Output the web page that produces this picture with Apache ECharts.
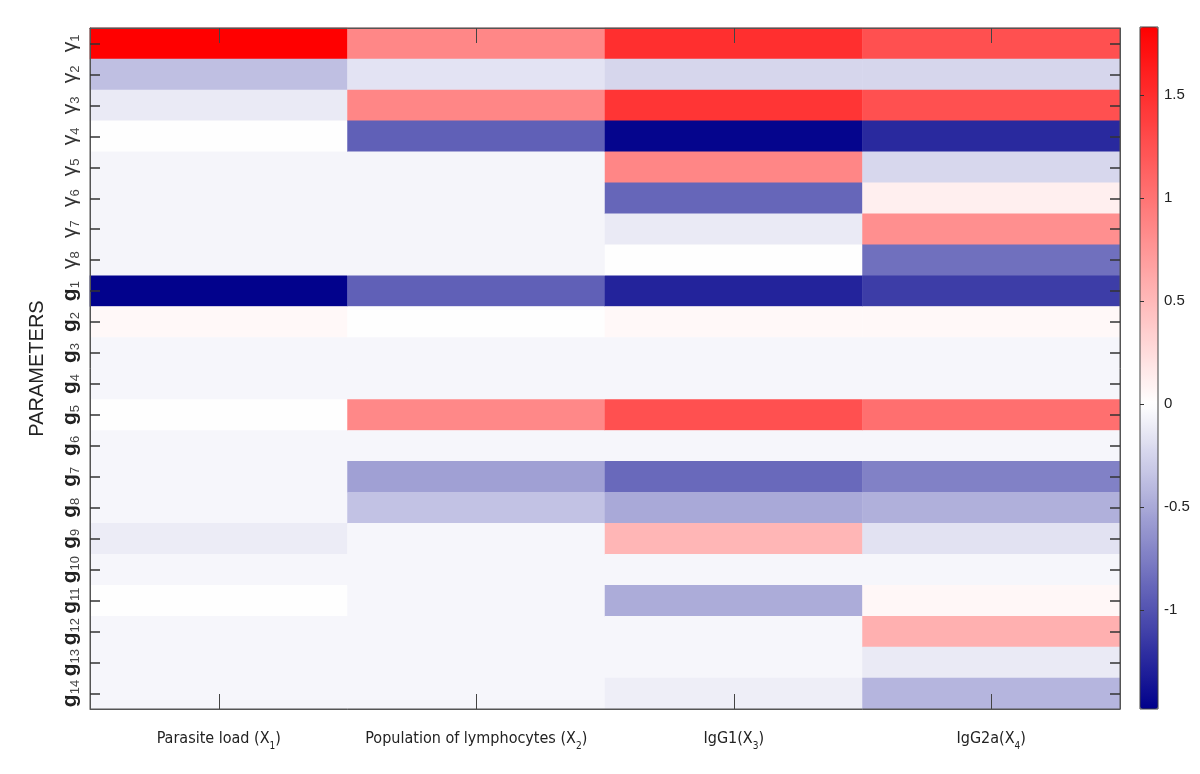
<!DOCTYPE html>
<html>
<head>
<meta charset="utf-8">
<script src="https://cdn.jsdelivr.net/npm/echarts@6/dist/echarts.min.js"></script>
<style>html,body{margin:0;padding:0;background:#fff}#chart{width:1200px;height:774px}</style>
</head>
<body>
<div id="chart"></div>
<script>
// ---- data ----
const rowLabels = ['γ1','γ2','γ3','γ4','γ5','γ6','γ7','γ8',
  'g1','g2','g3','g4','g5','g6','g7','g8','g9','g10','g11','g12','g13','g14'];
const colLabels = ['Parasite load (X1)','Population of lymphocytes (X2)','IgG1(X3)','IgG2a(X4)'];
const colMain = ['Parasite load (X','Population of lymphocytes (X','IgG1(X','IgG2a(X'];
const colSub = ['1','2','3','4'];

const parasiteLoad = [1.83,-0.37,-0.12,0.00,-0.06,-0.06,-0.06,-0.06,
  -1.47,0.05,-0.05,-0.05,0.00,-0.05,-0.05,-0.05,-0.11,-0.05,0.00,-0.05,-0.05,-0.05];
const lymphocytes = [0.86,-0.16,0.87,-0.92,-0.06,-0.06,-0.06,-0.06,
  -0.92,0.00,-0.05,-0.05,0.85,-0.05,-0.55,-0.35,-0.05,-0.05,-0.05,-0.05,-0.05,-0.05];
const igG1 = [1.49,-0.24,1.45,-1.45,0.87,-0.89,-0.12,0.00,
  -1.28,0.05,-0.05,-0.05,1.26,-0.05,-0.87,-0.50,0.53,-0.05,-0.48,-0.05,-0.05,-0.10];
const igG2a = [1.26,-0.24,1.26,-1.24,-0.23,0.11,0.80,-0.83,
  -1.13,0.05,-0.05,-0.05,1.03,-0.05,-0.73,-0.46,-0.17,-0.05,0.06,0.57,-0.12,-0.43];

const colorbarTicks = [-1,-0.5,0,0.5,1,1.5];
const VMIN = -1.48, VMAX = 1.83;

// ---- build ----
const columns = [parasiteLoad, lymphocytes, igG1, igG2a];
const data = [];
columns.forEach((col, xi) => col.forEach((v, yi) => data.push([xi, yi, v])));

const NAVY = [0,0,139], RED = [255,0,0], WHITE = [255,255,255];
function mix(a, b, t){ return 'rgb(' + a.map((c,i)=>Math.round(c+(b[i]-c)*t)).join(',') + ')'; }
function cmap(v){ return v < 0 ? mix(WHITE, NAVY, Math.min(1, v/VMIN)) : mix(WHITE, RED, Math.min(1, v/VMAX)); }
const stops = [];
const N = 160;
for (let i = 0; i <= N; i++) stops.push(cmap(VMIN + (VMAX - VMIN) * i / N));

const chart = echarts.init(document.getElementById('chart'));
const axisColor = '#555';
const labelFont = "'DejaVu Sans Condensed','Liberation Sans Narrow','Arial Narrow',sans-serif";
const sans = "'Liberation Sans',Arial,sans-serif";

chart.setOption({
  backgroundColor: '#fff',
  animation: false,
  grid: [
    {left: 90, top: 28, width: 1030, height: 681, show: true, borderColor: axisColor, borderWidth: 1, z: 8},
    {left: 1140, top: 27, width: 18, height: 682, show: true, borderColor: '#444', borderWidth: 1, backgroundColor: 'transparent', z: 8}
  ],
  visualMap: {
    type: 'continuous',
    seriesIndex: 0,
    min: VMIN, max: VMAX,
    orient: 'vertical',
    left: 1140, top: 27,
    padding: 0,
    itemWidth: 18, itemHeight: 682,
    calculable: false,
    text: null,
    showLabel: false,
    hoverLink: false,
    inRange: {color: stops}
  },
  xAxis: [
    {type: 'category', gridIndex: 0, data: colLabels, position: 'bottom', z: 10,
      axisLine: {lineStyle: {color: axisColor}},
      axisTick: {show: true, alignWithLabel: true, inside: true, length: 15, lineStyle: {color: '#444', width: 1}},
      splitLine: {show: false},
      axisLabel: {margin: 18, interval: 0, color: '#222',
        formatter: (v, i) => '{n|' + colMain[i] + '}{s|' + colSub[i] + '}{n|)}',
        rich: {
          n: {fontFamily: labelFont, fontSize: 16, color: '#222'},
          s: {fontFamily: labelFont, fontSize: 10, color: '#222', padding: [14, 0, 0, 0]}
        }}
    },
    {type: 'category', gridIndex: 0, data: colLabels, position: 'top', z: 10,
      axisLine: {lineStyle: {color: axisColor}},
      axisTick: {show: true, alignWithLabel: true, inside: true, length: 15, lineStyle: {color: '#444', width: 1}},
      axisLabel: {show: false}, splitLine: {show: false}},
    {type: 'value', gridIndex: 1, show: false, min: 0, max: 1}
  ],
  yAxis: [
    {type: 'category', gridIndex: 0, data: rowLabels, inverse: true, position: 'left', z: 10,
      name: 'PARAMETERS', nameLocation: 'middle', nameGap: 43, nameRotate: 90,
      nameTextStyle: {fontFamily: sans, fontSize: 20, color: '#222'},
      axisLine: {lineStyle: {color: axisColor}},
      axisTick: {show: true, alignWithLabel: true, inside: true, length: 10, lineStyle: {color: '#333', width: 1.5}},
      splitLine: {show: false},
      axisLabel: {rotate: 90, margin: 8, interval: 0,
        formatter: v => (v[0] === 'g' ? '{b|g}' : '{m|γ}') + '{s|' + v.slice(1) + '}',
        rich: {
          m: {fontFamily: sans, fontSize: 21, color: '#333'},
          b: {fontFamily: sans, fontSize: 21, fontWeight: 'bold', color: '#222'},
          s: {fontFamily: sans, fontSize: 13, color: '#444', padding: [10, 0, 0, 0]}
        }}
    },
    {type: 'category', gridIndex: 0, data: rowLabels, inverse: true, position: 'right', z: 10,
      axisLine: {lineStyle: {color: axisColor}},
      axisTick: {show: true, alignWithLabel: true, inside: true, length: 10, lineStyle: {color: '#333', width: 1.5}},
      axisLabel: {show: false}, splitLine: {show: false}},
    {type: 'value', gridIndex: 1, position: 'right', min: VMIN, max: VMAX, z: 10,
      axisLine: {show: false},
      axisTick: {show: true, inside: false, length: 4, customValues: colorbarTicks, lineStyle: {color: '#333'}},
      splitLine: {show: false},
      axisLabel: {customValues: colorbarTicks, margin: 6, color: '#222',
        fontFamily: sans, fontSize: 15,
        formatter: v => String(v)}}
  ],
  series: [{
    type: 'heatmap',
    xAxisIndex: 0, yAxisIndex: 0,
    z: 1,
    data: data,
    itemStyle: {borderWidth: 0},
    emphasis: {disabled: true}
  }]
});
</script>
</body>
</html>
